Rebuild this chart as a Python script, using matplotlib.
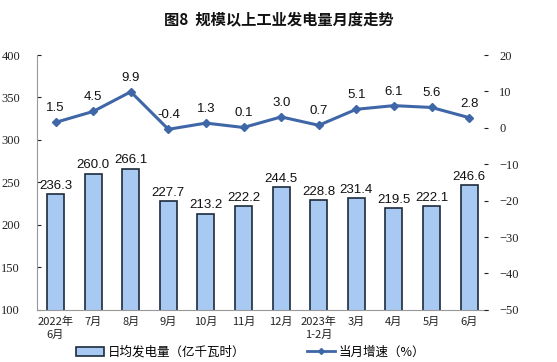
import matplotlib.pyplot as plt
import numpy as np
from matplotlib.lines import Line2D
from matplotlib.patches import Patch

plt.rcParams['font.family'] = ['Noto Sans CJK SC', 'DejaVu Sans']

months = ['2022年\n6月', '7月', '8月', '9月', '10月', '11月', '12月',
          '2023年\n1-2月', '3月', '4月', '5月', '6月']
daily_gen = [236.3, 260.0, 266.1, 227.7, 213.2, 222.2, 244.5, 228.8, 231.4, 219.5, 222.1, 246.6]
growth = [1.5, 4.5, 9.9, -0.4, 1.3, 0.1, 3.0, 0.7, 5.1, 6.1, 5.6, 2.8]

bar_color = '#A7C9F2'
line_color = '#3F67A8'

fig = plt.figure(figsize=(5.57, 3.62), dpi=100)
ax = fig.add_axes([0.066, 0.144, 0.81, 0.704])
x = np.arange(len(months))

# 柱状图：日均发电量
ax.bar(x, daily_gen, width=0.45, color=bar_color, edgecolor='#1E2B3C', linewidth=1.2, zorder=2)
ax.set_ylim(100, 400)
ax.set_xlim(-0.5, len(months) - 0.5)
ax.set_yticks(range(100, 401, 50))
for i, v in enumerate(daily_gen):
    ax.text(i, v + 3, f'{v:.1f}', ha='center', va='bottom', fontsize=9.5,
            family='Liberation Sans', color='#111111')

ax.set_xticks(x)
ax.set_xticklabels(months, fontsize=8, linespacing=1.3, color='#222222')
ax.tick_params(axis='x', length=0, pad=5)
ax.tick_params(axis='y', length=3, direction='in', labelsize=9, colors='#222222', pad=12)
for lab in ax.get_yticklabels():
    lab.set_family('Liberation Serif')
for s in ['top', 'right']:
    ax.spines[s].set_visible(False)
ax.spines['left'].set_color('#999999')
ax.spines['bottom'].set_color('#999999')

# 折线图：当月增速
ax2 = ax.twinx()
ax2.plot(x, growth, color=line_color, linewidth=2.2, marker='D', markersize=4, zorder=3)
ax2.set_ylim(-50, 20)
ax2.set_yticks(range(-50, 21, 10))
ax2.tick_params(axis='y', length=3, direction='in', labelsize=9, colors='#222222', pad=8)
for lab in ax2.get_yticklabels():
    lab.set_family('Liberation Serif')
for s in ['top', 'right', 'left', 'bottom']:
    ax2.spines[s].set_visible(False)
for i, v in enumerate(growth):
    ax2.text(i, v + 2.2, f'{v:.1f}', ha='center', va='bottom', fontsize=9.5,
             family='Liberation Sans', color='#111111')

fig.text(0.5, 0.945, '图8  规模以上工业发电量月度走势', ha='center', va='center',
         fontsize=11, fontweight='bold', color='#111111')

handles = [Patch(facecolor=bar_color, edgecolor='#1E2B3C', linewidth=1.2),
           Line2D([0], [0], color=line_color, linewidth=2, marker='D', markersize=3)]
fig.legend(handles, ['日均发电量（亿千瓦时）', '当月增速（%）'], loc='center',
           bbox_to_anchor=(0.45, 0.027), ncol=2, frameon=False, fontsize=9,
           columnspacing=5, handlelength=2.2, handletextpad=0.3)

fig.savefig('out.png', dpi=100)
